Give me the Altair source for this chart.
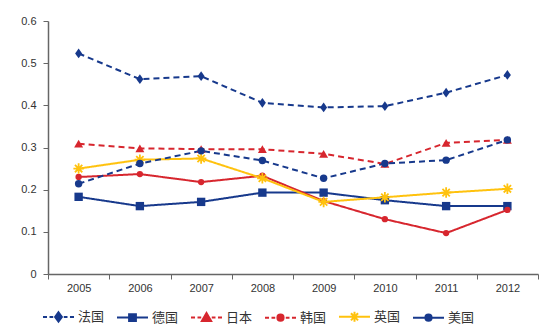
import altair as alt
import pandas as pd

years = ["2005", "2006", "2007", "2008", "2009", "2010", "2011", "2012"]
countries = ["法国", "德国", "日本", "韩国", "英国", "美国"]
france = [0.523, 0.462, 0.469, 0.406, 0.395, 0.398, 0.430, 0.472]
germany = [0.183, 0.161, 0.171, 0.193, 0.193, 0.175, 0.161, 0.161]
japan = [0.309, 0.298, 0.296, 0.296, 0.285, 0.261, 0.311, 0.318]
korea = [0.230, 0.237, 0.218, 0.233, 0.173, 0.130, 0.097, 0.152]
uk = [0.250, 0.271, 0.274, 0.227, 0.171, 0.182, 0.193, 0.202]
usa = [0.214, 0.262, 0.292, 0.269, 0.227, 0.262, 0.270, 0.318]
series = [france, germany, japan, korea, uk, usa]

BLUE = "#17398c"
RED = "#d7262e"
YEL = "#ffc20e"
colors = [BLUE, BLUE, RED, RED, YEL, BLUE]
dashes = [[6, 4], [1, 0], [6, 4], [1, 0], [1, 0], [6, 4]]

DIAMOND = "M0,-1L0.72,0L0,1L-0.72,0Z"
STAR = "M-1,0H1M0,-1V1M-0.7,-0.7L0.7,0.7M-0.7,0.7L0.7,-0.7"
markers = [
    dict(shape=DIAMOND, size=95, filled=True),
    dict(shape="square", size=70, filled=True),
    dict(shape="triangle-up", size=80, filled=True),
    dict(shape="circle", size=40, filled=True),
    dict(shape=STAR, size=110, filled=False, strokeWidth=1.8),
    dict(shape="circle", size=55, filled=True),
]

# legend symbols: line sample + marker (unit coords, scaled by sqrt(symbolSize)/2)
DASH = "M-1,0H-0.74M-0.58,0H-0.34M0.34,0H0.58M0.74,0H1"
SOLID = "M-1,0H1"
L_DIAM = "M0,-0.3L0.22,0L0,0.3L-0.22,0Z"
L_SQ = "M-0.22,-0.22H0.22V0.22H-0.22Z"
L_TRI = "M0,-0.3L0.3,0.22L-0.3,0.22Z"
L_CIR = "M0.2,0A0.2,0.2 0 1,1 -0.2,0A0.2,0.2 0 1,1 0.2,0Z"
L_STAR = "M0,-0.32V0.32M-0.23,-0.23L0.23,0.23M-0.23,0.23L0.23,-0.23"
legend_paths = [
    DASH + L_DIAM,
    SOLID + L_SQ,
    DASH + L_TRI,
    DASH + L_CIR,
    SOLID + L_STAR,
    SOLID + L_CIR,
]

rows = []
for c, vals in zip(countries, series):
    for y, v in zip(years, vals):
        rows.append({"year": y, "country": c, "value": v})
df = pd.DataFrame(rows)

x_enc = alt.X(
    "year:O",
    bandPosition=0.5,
    scale=alt.Scale(type="band", paddingInner=0, paddingOuter=0),
    axis=alt.Axis(
        title=None, labelAngle=0, tickBand="extent", domainColor="#666666",
        tickColor="#666666", tickSize=5, labelPadding=3, labelFontSize=11,
        labelFont="Liberation Sans", labelColor="#333333", domainWidth=1.5,
    ),
)
y_enc = alt.Y(
    "value:Q",
    scale=alt.Scale(domain=[0, 0.6], nice=False, zero=True),
    axis=alt.Axis(
        title=None, values=[0, 0.1, 0.2, 0.3, 0.4, 0.5, 0.6], format=".1~f",
        grid=False, domainColor="#666666", tickColor="#666666", tickSize=5,
        labelPadding=7, labelFontSize=11, labelFont="Liberation Sans",
        labelColor="#333333", domainWidth=1.5,
    ),
)

base = alt.Chart(df)
layers = []
for c, col, dsh, mk in zip(countries, colors, dashes, markers):
    f = base.transform_filter(alt.datum.country == c)
    layers.append(
        f.mark_line(color=col, strokeDash=dsh, strokeWidth=2).encode(x=x_enc, y=y_enc)
    )
for c, col, mk in zip(countries, colors, markers):
    f = base.transform_filter(alt.datum.country == c)
    kw = dict(mk)
    filled = kw.pop("filled")
    sw = kw.pop("strokeWidth", 1)
    layers.append(
        f.mark_point(color=col, filled=filled, opacity=1, strokeWidth=sw, **kw).encode(x=x_enc, y=y_enc)
    )

leg_kw = dict(
    title=None, orient="none", legendX=-6, legendY=279, direction="horizontal",
    columns=6, symbolSize=961, symbolStrokeWidth=2, labelFont="Noto Sans CJK SC",
    labelFontSize=13, labelColor="#333333", labelOffset=3, columnPadding=8,
    padding=0, symbolOpacity=1,
)
legend_layer = (
    base.transform_filter("false")
    .mark_point(filled=True)
    .encode(
        x=x_enc,
        y=y_enc,
        fill=alt.Fill("country:N", scale=alt.Scale(domain=countries, range=colors), legend=alt.Legend(**leg_kw), sort=countries),
        stroke=alt.Stroke("country:N", scale=alt.Scale(domain=countries, range=colors), legend=alt.Legend(**leg_kw), sort=countries),
        shape=alt.Shape("country:N", scale=alt.Scale(domain=countries, range=legend_paths), legend=alt.Legend(**leg_kw), sort=countries),
    )
)

chart = (
    alt.layer(*layers, legend_layer)
    .properties(
        width=490, height=253,
        autosize=alt.AutoSizeParams(type="none"),
        padding={"left": 48, "top": 21, "right": 12, "bottom": 59},
        background="white",
    )
    .configure_view(stroke=None)
)

chart.save("out.html", embed_options={"renderer": "svg", "actions": False})
